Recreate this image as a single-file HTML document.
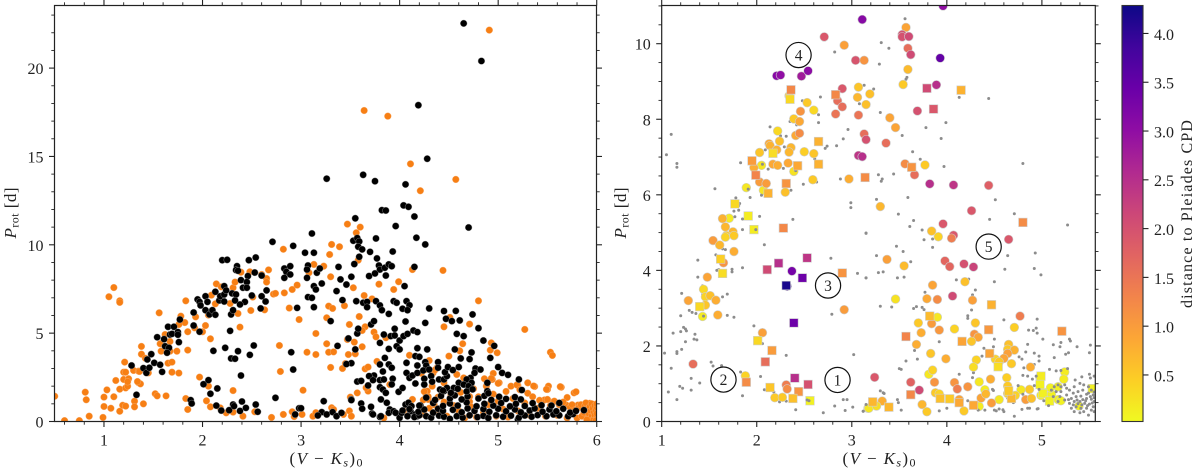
<!DOCTYPE html>
<html><head><meta charset="utf-8"><title>Rotation period vs colour</title>
<style>
html,body{margin:0;padding:0;background:#fff;width:1200px;height:472px;overflow:hidden}
svg{display:block}
text{font-family:"Liberation Serif",serif;fill:#222}
</style></head>
<body>
<svg id="fig" xmlns="http://www.w3.org/2000/svg" width="1200" height="472" viewBox="0 0 1200 472">
<defs>
<clipPath id="clipL"><rect x="54.5" y="5.5" width="542" height="416"/></clipPath>
<clipPath id="clipR"><rect x="661.7" y="5.5" width="433.6" height="416"/></clipPath>
<linearGradient id="cbarGrad" x1="0" y1="1" x2="0" y2="0"></linearGradient>
</defs>
<g id="layerL"></g>
<g id="layerR"></g>
<g id="layerC"></g>
<text transform="translate(16,213) rotate(-90)" text-anchor="middle" font-size="17" textLength="51" lengthAdjust="spacing"><tspan font-style="italic">P</tspan><tspan font-size="12" dy="2.5">rot</tspan><tspan dy="-2.5"> [d]</tspan></text>
<text transform="translate(626,213) rotate(-90)" text-anchor="middle" font-size="17" textLength="51" lengthAdjust="spacing"><tspan font-style="italic">P</tspan><tspan font-size="12" dy="2.5">rot</tspan><tspan dy="-2.5"> [d]</tspan></text>
<text x="326" y="464" text-anchor="middle" font-size="17" textLength="73" lengthAdjust="spacing">(<tspan font-style="italic">V</tspan> − <tspan font-style="italic">K</tspan><tspan font-size="12" font-style="italic" dy="2.5">s</tspan><tspan dy="-2.5">)</tspan><tspan font-size="12" dy="2.5">0</tspan></text>
<text x="879" y="464" text-anchor="middle" font-size="17" textLength="73" lengthAdjust="spacing">(<tspan font-style="italic">V</tspan> − <tspan font-style="italic">K</tspan><tspan font-size="12" font-style="italic" dy="2.5">s</tspan><tspan dy="-2.5">)</tspan><tspan font-size="12" dy="2.5">0</tspan></text>
<text transform="translate(1192,214) rotate(-90)" text-anchor="middle" font-size="16" textLength="188" lengthAdjust="spacing">distance to Pleiades CPD</text>
</svg>
<script>
// ---------- chart data ----------
const leftOrange=[[.5,1.43],[.6,.05],[.75,.05],[.81,1.66],[.82,1.23],[.85,.3],[.99,.23],[1,1.38],[1.03,1.79],[1,.85],[1.07,.75],[1.1,1.4],[1.05,7.06],[1.1,7.58],[1.16,6.83],[1.16,6.74],[1.12,2.32],[1.16,1.83],[1.16,.58],[1.19,.92],[1.22,.87],[1.2,2.38],[1.21,3.36],[1.2,2.79],[1.22,1.9],[1.24,2],[1.25,2.42],[1.24,2.25],[1.22,2.79],[1.31,1.15],[1.31,.83],[1.4,1],[1.3,2.89],[1.35,2.85],[1.36,2.83],[1.35,2.2],[1.37,2.13],[1.34,2.26],[1.38,4.25],[1.38,3.81],[1.42,3.58],[1.45,2.75],[1.52,1.57],[1.54,1.45],[1.63,1.45],[1.56,6.15],[1.57,4.4],[1.58,3.98],[1.62,4.92],[1.67,4.53],[1.67,3.98],[1.65,3.3],[1.69,3.36],[1.69,2.79],[1.76,2.74],[1.74,3.98],[1.85,4.04],[1.85,5.08],[1.78,5.96],[1.82,5.6],[1.76,5.49],[1.83,6.83],[1.93,5.92],[1.92,5.3],[2,5.08],[2.03,5.43],[2.08,4.68],[2.06,6.02],[1.97,2.51],[2.06,2],[2.04,1.17],[1.83,1.3],[1.85,.68],[2.08,.83],[2.18,.77],[2.24,.49],[2.31,.53],[2.31,1.75],[2.41,.3],[2.53,.55],[2.7,.23],[2.82,.4],[2.91,.55],[2.93,.28],[2.14,7.79],[2.13,6.66],[2.09,7.15],[2.19,7.62],[2.28,6.68],[2.31,7.57],[2.33,7.89],[2.36,6.11],[2.38,5.34],[2.39,8.45],[2.48,8.47],[2.51,7.04],[2.49,6.28],[2.63,6.32],[2.6,8.32],[2.65,8.09],[2.65,7.89],[2.67,8.58],[2.72,7.21],[2.74,7.25],[2.78,4.3],[2.79,2.83],[2.82,9.75],[2.83,7.28],[2.88,6.42],[2.91,7.47],[2.96,7.72],[2.98,5.77],
[4.91,22.15],[3.64,17.6],[3.88,17.28],[4.11,14.58],[4.57,13.7],[4.21,13.06],[3.47,11.17],[3.6,11],[3.56,10.68],
[3.31,10.02],[3.39,9.89],[3.29,9.45],[3.13,8.89],[3.23,8.79],[3.08,8.42],[3.3,8.19],[3.58,9.13],[4.13,8.6],[4.44,8.55],[3.99,7.91],[3.79,7.77],[3.53,7.57],[3.94,7.47],[3.64,7.13],[3.72,6.94],[4.8,6.83],[3.28,6.53],[3.32,6.4],[3.44,6.55],[3.26,5.87],[3.59,5.94],[3.49,5.49],[4.51,5.89],[3.65,5.36],[3.62,5.15],[4.45,5.36],[4.71,5.51],[5.27,5.21],[3.74,5.06],[3.76,4.79],[3.86,4.74],[3.15,4.98],[3.54,4.49],[3.47,4.64],[3.26,4.4],[3.62,4.23],[4.93,4.45],[4.64,4.4],[4.92,4.04],[4.99,3.89],[4.61,4],[3.06,3.92],[3.15,3.79],[3.28,3.92],[3.33,3.94],[3.48,3.79],[3.55,3.83],[4.1,3.75],[4.5,3.7],[5.53,3.92],[5.55,3.74],[4.3,3.45],[3.77,3.4],[3.45,3.28],[3.3,3.06],[3.42,3],[3.65,2.98],[3.68,3.08],[4.38,3.04],[4.26,2.94],[4.34,2.75],[4.58,2.66],[4.65,2.47],[4.95,2.72],[4.86,2.42],[4.94,2.38],[5.01,2.19],[5.13,2],[5.2,2.04],[5.3,2.19],[5.37,1.98],[5.51,2],[5.5,1.81],[5.64,1.94],[5.77,1.62],[5.79,1.68],[5.7,1.36],[3.02,1.77],[3.9,2.09],[3.68,1.72],[3.66,1.91],[3.5,1.38],[3.57,1.62],[4.28,1.72],[4.27,1.43],[4.29,1.25],[4.39,1.38],[4.33,2],[4.45,2.19],[4.13,1.25],
[4.25,1.69],[4.29,1.41],[4.24,1.22],[4.36,2.92],[4.22,2.73],[4.71,1.41],[4.71,1.12],[4.93,2.44],[5,2.16],[5.19,2.07],[5.36,2.01],[5.49,1.82],[5.63,1.97],[5.47,1.22],[5.56,1.12],[5.69,.93],[5.81,.93],[5.86,.93],[5.93,1.03],
[3.01,.4],[3.12,.3],[3.15,.5],[3.31,.78],[3.33,.68],[3.49,.6],[3.51,.3],[3.43,.4],[3.84,.2],[4.22,.68],[4.04,.6],[4.25,.4],[4.3,.75],[4.35,.95],[4.4,.5],[4.45,1.1],[4.48,.3],[4.52,1.5],[4.55,.9],[4.6,.6],[4.62,1.65],[4.66,.2],[4.68,1.25],[4.72,.85],[4.75,1.85],[4.78,.25],[4.8,1.4],[4.85,.5],[4.88,2],[4.9,.95],[4.95,1.55],[4.98,.3],[5,1.15],[5.05,.7],[5.08,1.7],[5.1,.25],[5.15,1.3],[5.2,.6],[5.22,1.8],[5.27,1.05],[5.3,1.6],[5.32,.35],[5.35,1.4],[5.4,.75],[5.42,1.2],[5.48,.3],[5.5,1.25],[5.53,.9],[5.57,1.15],[5.6,.35],[5.62,.95],[5.66,1.1],[5.7,.2],[5.73,.8],[5.75,.95],[5.78,.65],[5.8,.2],[5.82,.8],[5.84,.95],[5.85,.3],[5.87,.5],[5.88,.9],[5.89,1.05],[5.9,.7],[5.91,.2],[5.92,.45],[5.93,.85],[5.94,.6],[5.95,.3],[5.95,1],[5.96,.75],[5.97,.15],[5.97,.5],[5.98,.9],[5.98,.35],[5.99,.65],[6,.2],[6,.45],[6,.8],[6,1],[5.96,.05],[5.9,.1],[5.99,.05]];
const leftBlack=[[1.28,3.17],[1.33,1.51],[1.4,3.02],[1.43,2.75],[1.44,3.51],[1.46,3.04],[1.48,3.81],[1.51,3.32],[1.57,3.21],[1.59,2.81],[1.54,4.77],[1.61,4.66],[1.62,4.26],[1.66,4.17],[1.64,3.89],[1.65,5.36],[1.67,4.92],[1.71,5.36],[1.69,4.96],[1.75,5.06],[1.75,4.91],[1.76,4.49],[1.77,5.77],[1.91,6.17],[1.91,5.43],[1.97,5.08],[1.95,6.91],[1.97,6.77],[1.98,6.57],[2.03,6.3],[2.03,7.09],[2.05,6.77],[2.07,6.06],[2.1,6.3],[2.13,6.04],[2.13,7.34],[2.11,4],[2.17,6.85],[2.18,7.09],[2.22,7.19],[2.22,6.79],[2.2,9.13],[2.25,9.15],[2.23,4.17],[2.22,7.66],[2.24,7.42],[2.28,5.13],[2.29,6.06],[2.31,6.3],[2.29,3.57],[2.33,3.55],[2.36,3.98],[2.39,2.6],[2.35,8.79],[2.34,8.57],[2.36,8.53],[2.3,7.25],[2.34,7.19],[2.33,6.85],[2.43,6.77],[2.38,6.62],[2.39,8],[2.46,8.23],[2.45,7.89],[2.41,7.57],[2.45,7.57],[2.47,9.13],[2.54,9.28],[2.53,8.43],[2.5,7.13],[2.6,8.26],[2.6,7.09],[2.64,6.79],[2.59,6.4],[2.65,7.42],[2.52,4.3],[2.48,3.77],[2.01,2.11],[2.06,2.34],[2.15,1.87],[2.08,1.57],[1.88,1.21],[1.89,1.02],[2.14,.9],[2.19,.62],[2.27,.64],[2.31,.96],[2.32,.87],[2.4,1.13],[2.38,.6],[2.44,.77],[2.54,.96],[2.56,.55],[2.74,1.34],[2.71,10.17],[2.92,9.94],[2.83,8.66],[2.85,8.47],[2.89,8.79],[2.89,8.32],[2.83,8.13],[2.9,3.92],[2.92,2.94],[2.94,.4],[2.98,.75],[2.96,6.43],
[4.65,22.53],[4.83,20.4],[4.19,17.9],[4.28,14.87],[3.26,13.74],[3.63,13.96],[3.75,13.6],[4.06,13.42],[3.82,11.96],[3.86,11.94],[4.04,12.23],[4.09,12.15],[4.15,11.6],[3.55,11.5],[3.96,11.06],[4.7,10.98],[3.11,10.64],
[3.53,10.23],[3.57,10.38],[3.59,10.19],[3.58,9.89],[3.62,9.74],[3.59,9.32],[3.54,8.91],[3.76,10.36],[3.7,9.6],[3.77,9.23],[3.79,8.83],[3.8,8.6],[3.85,8.7],[3.89,8.89],[3.92,8.79],[3.93,9.62],[4.17,10.4],[4.26,10.02],[3.04,9.55],[3.13,9.55],[3.07,8.83],[3.06,8.6],[3.06,8.13],[3.16,8.42],[3.19,8.66],[3.21,7.81],[3.13,7.66],[3.15,7.47],[3.07,7.04],[3.11,7],[3.13,6.47],[3.38,8.75],[3.4,8.04],[3.46,7.75],[3.51,8.19],[3.36,7.38],[3.42,6.87],[3.56,6.81],[3.63,6.72],[3.67,6.77],[3.67,6.47],[3.76,6.81],[3.8,6.57],[3.82,6.3],[3.89,6.09],[3.69,8.23],[3.75,8.38],[3.86,8.26],[3.94,6.81],[3.97,6.72],[4.03,6.38],[4.07,6.81],[4.1,6.58],[4.08,6.3],[4.05,7.66],[4.15,8.75],[4.06,5.66],[4.26,5.58],[4.3,6.4],[4.45,6.25],[4.57,6.26],[4.47,5.81],[4.53,5.68],[4.61,5.72],[4.74,6.06],[4.8,5.28],[4.58,4.96],[4.65,4.83],[4.85,4.58],[4.96,4.28],[4.92,3.6],[4.73,3.91],[4.71,3.53],[4.62,3.57],[4.56,4.08],[3.3,5.68],[3.37,4.28],[3.48,4.7],[3.55,4.08],[3.57,4.98],[3.58,5.25],[3.71,5.49],[3.74,5.68],[3.8,4.45],[3.84,4.92],[3.91,4.83],[3.95,5.25],[3.95,4.87],[4,4.58],[3.97,4.26],[4.04,4.83],[4.08,4.96],[4.14,5.15],[4.18,5.06],[3.89,4.11],[4,4.08],[4.18,4.15],[4.28,4.08],[4.16,3.7],[4.2,3.66],[3.85,3.6],[3.51,3.3],[3.46,3.25],[3.51,1.25],[3.8,3.23],[3.89,3.23],[3.92,3.04],[3.83,2.83],[3.74,2.6],[3.69,2.57],[3.73,2.34],[3.68,2.04],[3.57,2.26],[3.61,2.3],[3.8,2.34],[3.84,2.38],[3.93,2.42],[3.92,2.1],[3.8,1.94],[3.83,1.81],[3.86,1.62],[3.81,1.25],[4.07,3.32],[3.99,1.68],[4.03,1.9],[4.07,2.75],[4.1,2.47],[4.13,2.6],[4.18,2.75],[4.16,2.15],[4.18,3.17],[4.26,3.36],[4.27,3.17],[4.24,2.89],[4.39,3.36],[4.3,2.94],[4.39,3.04],[4.32,2.57],[4.25,2.42],[4.25,2.09],[4.33,2.25],[4.4,2.38],[4.45,2.38],[4.48,2.57],[4.46,2.79],[4.49,3.08],[4.54,2.91],[4.6,3.08],[4.77,3],[4.82,2.94],[4.76,2.75],[5,3.08],[5.04,2.75],[5.1,2.64],[5.21,2.38],[4.89,2.19],[4.72,2.47],[4.68,2.38],[4.73,2.19],[4.45,1.72],[4.41,1.81],[4.48,1.9],[4.55,1.9],[4.6,2.19],[4.65,2.09],[4.7,2],
[3.61,1.02],[3.51,1.21],[3.62,.72],[3.71,.83],[3.23,1.15],[3.21,.53],[3.17,.34],[3.26,.4],[3.32,.53],[3.36,.3],[3.41,.49],[3,.75],[3.72,.45],[3.8,.26],[3.73,.4],[3.81,.3],[3.87,1.06],[3.9,.68],[3.89,.49],[3.94,.58],[3.96,.49],[4,.21],[4.02,.49],[4.06,.96],[4.09,1.06],[4.12,.87],[4.11,.58],[4.18,.3],[4.21,.91],[4.16,.4],
[4.08,.3],[4.15,.25],[4.2,.35],[4.27,.3],[4.32,.22],[4.4,.33],[4.45,.27],[4.51,.15],[4.58,.3],[4.64,.22],[4.71,.35],[4.79,.25],[4.85,.32],[4.9,.2],[4.98,.35],[5.05,.27],[5.13,.33],[5.2,.12],[5.21,.22],[5.27,.34],[5.34,.27],[5.4,.36],[5.49,.3],[5.56,.4],[5.62,.35],[5.71,.3],[5.76,.42],
[4.03,.62],[4.1,.7],[4.19,.55],[4.25,.68],[4.34,.5],[4.39,.72],[4.44,.6],[4.54,.66],[4.63,.52],[4.69,.74],[4.76,.6],[4.85,.7],[4.91,.55],[5,.72],[5.08,.58],[5.17,.68],[5.23,.52],[5.32,.62],[5.37,.74],[5.45,.55],[5.52,.68],[5.59,.58],[5.66,.72],[5.73,.5],[5.79,.6],[5.87,.64],
[4.2,.9],[4.34,1.05],[4.44,.88],[4.51,1.02],[4.59,.9],[4.68,1.08],[4.78,.86],[4.86,1],[4.95,.9],[5.03,1.05],[5.12,.86],[5.18,1],[5.27,.88],[5.35,1.04],[5.44,.92],[5.54,.9],[5.62,1.05],
[4.27,1.35],[4.36,1.22],[4.42,1.45],[4.51,1.3],[4.56,1.48],[4.63,1.25],[4.69,1.42],[4.8,1.3],[4.86,1.45],[4.93,1.22],[5.01,1.4],[5.08,1.28],[5.17,1.38],[5.23,1.25],
[4.44,1.75],[4.52,1.62],[4.59,1.85],[4.68,1.7],[4.74,1.82],[4.89,1.72],[4.9,1.6],[5.24,1.78]];
const rightGray=[[2.82,9.78],[1.1,7.6],[1.05,7.06],[1.16,6.83],[1.16,6.73],[1.83,6.85],[1.56,6.16],[1.78,5.92],[1.82,5.77],[1.81,5.71],[1.76,5.57],[1.81,5.59],[1.77,5.42],[1.85,5.36],[1.93,5.93],[2.03,5.43],[1.91,6.15],[2.05,5.99],[1.85,5.08],[1.99,5.08],[2.14,7.8],[2.2,7.65],[2.25,7.56],[2.31,7.55],[2.35,7.94],[2.42,7.85],[2.48,8.49],[2.38,8.46],[2.67,8.59],[2.65,8.12],[2.59,8.31],[2.65,7.91],[2.96,7.73],[2.91,7.48],[2.84,7.3],[2.74,7.29],[2.72,7.23],[2.88,6.42],[2.63,6.34],[2.49,6.28],[2.36,6.12],[2.41,6.64],[2.28,6.7],[2.12,6.68],[2.61,6.95],[2.99,5.79],[2.99,5.66],[2.38,5.35],[3.15,4.99],[3.13,8.9],[3.08,8.41],[2.09,7.19],[2.29,7.27],[2.38,7.31],[2.06,6.81],
[3.56,10.66],[3.31,10.03],[3.39,9.88],[3.29,9.46],[3.58,9.11],[3.57,9.06],[3.23,8.8],[4.13,8.58],[4.44,8.55],[3.3,8.18],[3.99,7.91],[3.78,7.78],[3.53,7.57],[3.94,7.49],[3.64,7.14],[3.72,6.94],[3.97,6.75],[4.8,6.83],[3.28,6.53],[3.44,6.55],[3.32,6.42],[3.31,6.36],[3.59,5.93],[3.26,5.88],[4.51,5.87],[3.49,5.49],[4.71,5.5],[4.45,5.35],[3.65,5.32],[3.61,5.16],[5.27,5.2],[3.74,5.07],[3.15,4.98],
[2.08,4.68],[1.38,4.27],[1.57,4.41],[1.64,4.57],[1.67,4.55],[2.78,4.32],[1.85,4.07],[1.6,4.02],[1.58,4],[1.74,4.03],[1.74,3.96],[1.38,3.82],[1.43,3.59],[3.06,3.92],[3.15,3.8],[1.21,3.39],[1.44,3.42],[1.43,3.35],[1.48,3.27],[1.44,3.24],[1.64,3.3],[1.69,3.37],[1.44,3.02],[1.29,2.94],[1.32,2.89],[1.36,2.86],[1.2,2.8],[1.69,2.81],[1.76,2.76],[2.79,2.84],[1.44,2.79],[1.97,2.53],[1.23,2.49],[1.25,2.45],[1.26,2.4],[1.12,2.34],[1.2,2.38],[1.35,2.31],[1.34,2.18],[1.37,2.16],[1.25,2.11],[2.06,2.06],[1.21,1.91],[1.16,1.85],[1.16,1.8],[1.03,1.81],[2.31,1.75],[3.02,1.77],[1.52,1.57],[1.54,1.47],[1.63,1.48],[1.1,1.41],[.99,1.5],[1.83,1.31],[1.31,1.14],[1.4,1.02],[2.04,1.19],[1.19,.93],[1.22,.88],[1.31,.83],[1.07,.78],[1.16,.58],[1.85,.68],[2.08,.84],[2.18,.78],[2.24,.52],[2.31,.54],[2.41,.31],[2.53,.57],[2.55,.55],[2.7,.23],[2.82,.41],[2.91,.58],[2.95,.58],[2.93,.29],[3.01,.38],[3.12,.27],
[3.76,4.81],[3.85,4.61],[3.85,4.83],[3.47,4.64],[3.54,4.5],[3.26,4.39],[3.62,4.23],[3.33,3.96],[3.28,3.94],[3.15,3.8],[3.48,3.8],[3.55,3.82],[4.93,4.46],[4.64,4.39],[4.61,4.03],[4.92,4.05],[4.99,3.88],[4.5,3.7],[4.1,3.75],[4.23,3.77],[4.3,3.48],[3.77,3.42],[4.27,3.35],[3.3,3.05],[3.42,3.03],[3.65,2.99],[3.68,3.04],[3.74,3.02],[3.76,2.96],[4.26,2.95],[4.22,2.8],[4.22,2.73],[4.6,2.69],[4.95,2.71],[4.94,2.47],[4.86,2.42],[4.91,2.41],[4.95,2.34],[5.01,2.18],[5.12,2.03],[5.2,2.09],[5.19,1.98],[5.29,2.18],[5.3,2.13],[5.37,1.98],[5.51,2.02],[5.5,1.82],[4.5,2.18],[4.49,1.98],[4.39,1.94],[4.37,1.73],[3.92,2.11],[3.66,1.88],[3.69,1.65],[3.57,1.6],[3.5,1.4],[3.52,1.38],[4.85,2.04],[4.83,1.84],[4.92,1.81],[4.97,1.73],[4.97,1.6],[4.92,1.51],[5.25,1.78],[5.28,1.82],[5.13,1.69],[5.08,1.38],[5.15,1.34],[4.76,1.71],[4.79,1.65],[4.81,1.42],[4.8,1.22],[4.85,1.2],[4.9,1.12],[4.94,1.2],[4.13,1.25],[4.27,1.16],[4.28,1.29],[4.48,.85],[4.49,.82],[4.43,.8],[4.52,.28],[4.59,.31],[4.6,.26],[4.71,.14],[4.79,.32],[4.85,.35],[4.96,.34],[3.33,.76],[3.3,.81],[3.34,.74],[3.48,.58],[3.49,.5],[3.52,.3],[3.12,.27],[3.15,.45],[3.92,.28],[4,.35],[4.22,.55],[4.33,.3],
[4.4,.3],[4.5,.3],[4.55,.33],[4.64,.62],[4.7,.5],[4.75,.95],[4.8,.72],[4.87,.35],[4.92,.95],[4.95,.33],[4.97,.85],[5.02,.55],[5.07,.42],[5.1,.83],[5.13,.92],[5.17,.97],[5.2,.92],[5.24,.97],[5.15,.79],[5.2,.79],[5.26,.88],[5.29,.83],[5.34,.92],[5.4,1.01],[5.44,.97],[5.49,.92],[5.33,.75],[5.38,.79],[5.43,.83],[5.49,.75],[5.52,.83],[5.54,.7],[5.12,.66],[5.19,.66],[5.26,.7],[5.31,.61],[5.36,.66],[5.41,.67],[5.47,.61],[5.52,.59],[5.55,.53],[5.17,.53],[5.24,.57],[5.29,.48],[5.34,.53],[5.4,.53],[5.45,.48],[5.5,.46],[5.54,.39],[5.31,.35],[5.36,.39],[5.41,.35],[5.47,.35],[5.52,.3],[5.55,.26],[5.34,.26],[5.4,.23],[5.49,.17],[5.44,.26],[5.28,.58],[5.33,.44],[5.38,.47],[5.42,.44],[5.46,.55],[5.51,.66],[5.53,.49],[5.55,.63],[5.48,.42],[5.43,.58],[5.37,.57],[5.47,.72],[5.55,.78],[5.5,1.25],[5.51,1.15],[5.2,1.35],[5.27,1.4],[5.35,1.1],[5.42,1.18],[5.55,1.2]];
const rightCircles=[[2.71,10.18,1.9],[2.92,9.96,.95],[3.11,10.64,3.1],[3.04,9.56,1.95],[3.13,9.56,1.1],[2.21,9.15,3.1],[2.25,9.17,3],[2.47,9.14,2.8],[2.54,9.28,3.05],[2.9,8.81,1.9],[2.85,8.49,1.6],[2.9,8.33,1.6],[2.83,8.14,1.5],[3.07,8.11,1.5],[3.07,8.85,.55],[3.06,8.58,.7],[3.15,8.39,.6],[3.19,8.67,.6],[3.13,7.61,1.6],[3.15,7.46,2],[3.07,7.04,2.4],[3.11,7.01,2.5],[2.97,6.42,.8],[2.34,8.62,.45],[2.53,8.44,.5],[2.6,8.24,.35],[2.46,8.21,1.1],[2.39,8.01,.5],[2.45,7.94,.85],[2.22,7.69,.35],[2.41,7.57,.85],[2.45,7.63,1.2],[2.24,7.42,.6],[2.13,7.35,.85],[2.14,7.3,.75],[2.21,7.19,.75],[2.36,7.25,.7],[2.34,7.13,.7],[2.03,7.12,.55],[2.5,7.14,.45],[2.6,7.09,.55],[1.97,6.72,.8],[2.05,6.78,.2],[2.17,6.81,.85],[2.22,6.78,.8],[2.33,6.84,.85],[2.39,6.62,.25],[2.59,6.4,.5],[2.03,6.34,1],[2.1,6.3,1],[2.3,6.07,.6],[2.07,6.12,.2],[1.89,6.19,.2],[1.71,5.38,.15],[1.64,5.37,.75],[1.67,5.15,.7],[1.75,5.02,.7],[1.68,4.92,.5],
[3.96,11,3],[3.57,10.43,.9],[3.53,10.24,2],[3.53,10.18,2],[3.6,10.19,2.1],[3.59,9.88,1.6],[3.62,9.71,2.1],[3.93,9.62,3.5],[3.59,9.32,.65],[3.54,8.92,.5],[3.89,8.91,2.5],[3.69,8.22,2],[3.4,8.04,.9],[3.46,7.78,.9],[3.36,7.37,1.6],[3.56,6.82,1.2],[3.77,6.79,.5],[3.66,6.53,1.6],[3.82,6.29,2.5],[4.07,6.26,2.4],[4.44,6.25,1.8],[4.26,5.58,1.9],[3.3,5.69,.7],[3.96,5.23,1.9],[3.84,5.04,.6],[4.07,4.93,1.9],[3.91,4.89,.4],
[1.54,4.79,1],[1.61,4.67,.7],[1.67,4.88,.4],[1.76,4.92,.5],[1.76,4.5,.8],[1.65,4.2,1.1],[1.48,3.82,.9],[1.44,3.5,.35],[1.46,3.3,.4],[1.51,3.33,.6],[1.57,3.21,.8],[1.28,3.2,.9],[1.46,3.08,.55],[1.43,2.78,.15],[1.59,2.82,.8],[2.06,2.35,.95],[1.33,1.52,1.6],[1.88,1.21,.4],[2.31,.97,1.4],[2.32,.86,1.2],[2.19,.63,.5],[2.27,.64,.5],[2.37,3.98,3.3],[2.32,3.58,3.9],[2.92,2.96,1],[3.17,.35,.2],
[3.37,4.29,.95],[3.55,4.12,.65],[4.65,4.82,1.9],[4.05,4.85,1.4],[3.98,4.25,1.7],[4.03,4.1,1.7],[4.18,4.17,2],[4.28,4.09,2.2],[3.85,3.61,.9],[4.19,3.7,.6],[3.46,3.24,.25],[3.79,3.25,.85],[3.9,3.23,1.2],[4.06,3.32,2.1],[4.27,3.21,.95],[3.9,2.76,.2],[3.7,2.61,.5],[3.84,2.59,1],[4.3,2.61,.55],[4.77,2.79,1.4],[3.73,2.35,.8],[3.92,2.42,1.05],[4.08,2.45,.4],[4.71,2.49,.45],[4.29,2.31,1.1],[4.33,2.23,.9],[4.26,2.12,.55],[3.68,2.04,.8],[4.65,2.04,.6],[4.64,1.91,.5],[4.71,1.89,.75],[3.83,1.8,.55],[3.99,1.66,.8],[4.64,1.8,.95],[4.6,1.67,.9],[4.51,1.65,.4],[4.55,1.58,.5],[4.31,1.63,.4],[4.28,1.44,.3],[4.68,1.53,.5],[4.88,1.44,.8],[3.85,1.36,.4],[3.81,1.25,.2],[3.24,1.17,1.9],[3.62,1.04,1.75],[3.71,.83,2.1],[3.87,1.04,1.1],[4.08,1.03,1.1],[4.11,.86,1.4],[4.22,.92,1.1],[4.34,1.05,.2],[4.46,1.12,.8],[4.4,.84,.15],[4.63,1.16,.45],[4.64,.94,.5],[4.78,.84,.2],[4.64,.74,.4],[4.87,.85,.5],[3.88,.76,.5],[3.92,.73,.4],[4.13,.58,.9],[4.36,.62,.9],[4.41,.73,.7],[4.47,.49,1],[4.72,.69,.4],[4.83,.58,1],[4.89,.61,.6],[4.55,.58,.2],[3.74,.45,.7],[3.79,.26,.5],[4.18,.28,.5],[3.32,.54,.8],[3.18,.35,.2],[3.26,.41,.3],[4.34,.4,.15],[4.98,1.16,.2],[5.24,1.31,.15],[5.23,1.12,.15],[5.04,.76,.1],[5.1,.72,.1],[5.17,.58,.1],[5.39,.41,.1],[4.99,.69,.15],[5.09,.89,.1],[5.17,.92,.1],[5.2,.55,.1]];
const rightSquares=[[2.36,8.78,1.25],[2.35,8.53,.35],[2.83,8.65,1.25],[2.65,7.41,.75],[1.95,6.9,1],[2.17,7.1,.3],[2.43,6.77,.85],[2.65,6.81,.75],[1.99,6.52,1.3],[2.31,6.3,1.1],[2.12,6.04,.75],[1.77,5.76,.35],[1.91,5.44,.15],[1.97,5.08,.15],[2.28,5.12,1.25],[3.14,6.46,1.2],
[3.79,8.82,2.1],[4.15,8.77,.75],[3.86,8.27,1.9],[3.63,6.73,1.1],[4.8,5.27,1.2],
[1.62,4.3,.45],[1.64,3.92,.3],[1.4,3.04,.35],[2.11,4.02,2.1],[2.23,4.19,2.5],[2.53,4.33,2.4],[2.48,3.8,3.4],[2.31,3.6,4.2],[2.9,3.93,1.1],[2.39,2.61,3.4],[2.01,2.14,.35],[2.16,1.88,1],[2.09,1.58,1.6],[1.89,1.04,1.2],[2.14,.9,.55],[2.4,1.15,2.5],[2.54,.98,2],[2.44,.79,1.1],[2.38,.61,.6],[2.56,.55,.1],
[4.47,3.09,.75],[3.82,2.79,.65],[3.57,2.25,1.3],[4.44,2.43,1.05],[5.21,2.39,1.1],[4.16,2.12,.9],[4.45,1.8,.9],[4.54,1.45,.3],[3.62,.71,1.25],[3.93,.61,.6],[4.03,.6,.5],[4.13,.5,.85],[4.28,.43,.85],[3.22,.52,.7],[3.39,.38,.7],[4.68,.61,.7],[4.65,.81,.5],[4.99,1.2,.15],[4.98,.98,.1],[5.01,.74,.1],[5.53,.87,.1],[5.08,.54,.1]];
const regionLabels=["1","2","3","4","5"];
const regionX=[2.85,1.65,2.75,2.44,4.44];
const regionY=[1.1,1.11,3.6,9.7,4.63];
const leftXTicks=[1,2,3,4,5,6];
const leftYTicks=[0,5,10,15,20];
const rightXTicks=[1,2,3,4,5];
const rightYTicks=[0,2,4,6,8,10];
const cbarTicks=["0.5","1.0","1.5","2.0","2.5","3.0","3.5","4.0"];
const plasma=["#0d0887","#41049d","#6a00a8","#8f0da4","#b12a90","#cc4778","#e16462","#f2844b","#fca636","#fcce25","#f0f921"];

// ---------- axis functions ----------
const NS="http://www.w3.org/2000/svg";
const TOP=5.5,BOT=421.5;
const lx=v=>54.7+(v-0.5)*98.55, ly=v=>BOT-v*17.67;
const rx=v=>661.7+(v-1)*95.05, ry=v=>BOT-v*37.78;
const cb=v=>BOT-(v-0.023)*97.57;
function mk(tag,attrs,parent){const e=document.createElementNS(NS,tag);for(const k in attrs)e.setAttribute(k,attrs[k]);parent.appendChild(e);return e;}
function hexToRgb(h){return [1,3,5].map(i=>parseInt(h.substr(i,2),16));}
function dColor(d){
  const t=Math.min(1,Math.max(0,1-(d-0.023)/(4.29-0.023)))*10;
  const i=Math.min(9,Math.floor(t)),f=t-i,a=hexToRgb(plasma[i]),b=hexToRgb(plasma[i+1]);
  return "rgb("+a.map((c,j)=>Math.round(c+(b[j]-c)*f)).join(",")+")";
}
const INK="#222";

function tickMark(parent,x1,y1,x2,y2,w){
  const t=mk("line",{x1:x1,y1:y1,x2:x2,y2:y2,stroke:INK,"stroke-width":w},parent);
  
  
}
function frame(parent,L,R,xf,yf,xTicks,yTicks,xMin,xMax,xStep,yMin,yMax,yStep,clip,yRight){
  for(let v=xMin;v<=xMax+1e-6;v+=xStep){
    const px=xf(v),maj=xTicks.some(t=>Math.abs(t-v)<1e-6),len=maj?5.5:3.2,w=maj?1.1:.9;
    tickMark(parent,px,BOT,px,BOT+len,w);tickMark(parent,px,TOP,px,TOP-len,w);
  }
  for(let v=yMin;v<=yMax+1e-6;v+=yStep){
    const py=yf(v),maj=yTicks.some(t=>Math.abs(t-v)<1e-6),len=maj?5.5:3.2,w=maj?1.1:.9;
    tickMark(parent,L,py,L-len,py,w);tickMark(parent,R,py,R+len,py,w);
  }
  const box=mk("rect",{x:L,y:TOP,width:R-L,height:BOT-TOP,fill:"none",stroke:INK,"stroke-width":1.2},parent);
  
  
  xTicks.forEach(v=>{
    const t=mk("text",{x:xf(v),y:445.5,"text-anchor":"middle","font-size":16},parent);
    t.textContent=String(v);
    
    
  });
  yTicks.forEach(v=>{
    const t=mk("text",{x:yRight,y:yf(v)+6,"text-anchor":"end","font-size":16},parent);
    t.textContent=String(v);
    
    
  });
}

// ---------- left panel ----------
const gL=document.getElementById("layerL");
const plotL=mk("g",{"clip-path":"url(#clipL)"},gL);
leftOrange.forEach(p=>{
  const c=mk("circle",{cx:lx(p[0]),cy:ly(p[1]),r:3.4,fill:"#f77f14",stroke:"#f7b27a","stroke-width":.4},plotL);
  
  
});
leftBlack.forEach(p=>{
  const c=mk("circle",{cx:lx(p[0]),cy:ly(p[1]),r:3.4,fill:"#000",stroke:"#999","stroke-width":.4},plotL);
  
  
});
frame(gL,54.5,596.5,lx,ly,leftXTicks,leftYTicks,.6,6,.2,0,23,1,"clipL",43.5);

// ---------- right panel ----------
const gR=document.getElementById("layerR");
const plotR=mk("g",{"clip-path":"url(#clipR)"},gR);
function drawCircle(p){
  const c=mk("circle",{cx:rx(p[0]),cy:ry(p[1]),r:4.4,fill:dColor(p[2]),stroke:"#cfcfcf","stroke-width":.6},plotR);
  
  
}
function drawSquare(p){
  const s=mk("rect",{x:rx(p[0])-4.3,y:ry(p[1])-4.3,width:8.6,height:8.6,fill:dColor(p[2]),stroke:"#cfcfcf","stroke-width":.6},plotR);
  
  
}
rightCircles.filter(p=>p[2]<=.25).forEach(drawCircle);
rightSquares.filter(p=>p[2]<=.25).forEach(drawSquare);
rightGray.forEach(p=>{
  const c=mk("circle",{cx:rx(p[0]),cy:ry(p[1]),r:1.5,fill:"#8c8c8c"},plotR);
  
  
});
rightCircles.filter(p=>p[2]>.25).forEach(drawCircle);
rightSquares.filter(p=>p[2]>.25).forEach(drawSquare);
regionLabels.forEach((lab,i)=>{
  const g=mk("g",{},gR);
  
  
  mk("circle",{cx:rx(regionX[i]),cy:ry(regionY[i]),r:12.6,fill:"none",stroke:"#111","stroke-width":1.2},g);
  const t=mk("text",{x:rx(regionX[i]),y:ry(regionY[i])+5.5,"text-anchor":"middle","font-size":15.5},g);
  t.textContent=lab;
});
frame(gR,661.7,1095.3,rx,ry,rightXTicks,rightYTicks,1,5.4,.2,0,11,.5,"clipR",650.8);

// ---------- colorbar ----------
const grad=document.getElementById("cbarGrad");
plasma.slice().reverse().forEach((col,i)=>{
  mk("stop",{offset:(i*10)+"%","stop-color":col},grad);
});
const gC=document.getElementById("layerC");
const bar=mk("rect",{x:1122,y:TOP,width:21,height:BOT-TOP,fill:"url(#cbarGrad)",stroke:"#333","stroke-width":1.1},gC);


cbarTicks.forEach(lab=>{
  const v=parseFloat(lab),py=cb(v);
  tickMark(gC,1143,py,1148.5,py,1.1);
  const t=mk("text",{x:1154,y:py+6.4,"font-size":16},gC);
  t.textContent=lab;
  
  
});
</script>
</body></html>
